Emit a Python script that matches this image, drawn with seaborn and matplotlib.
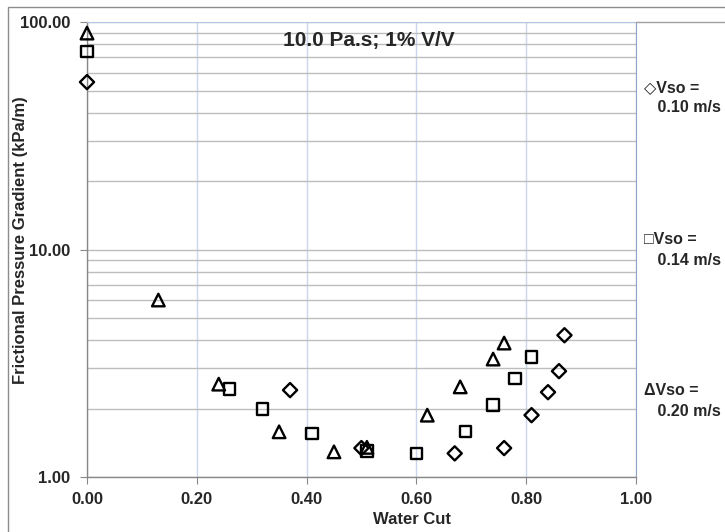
import numpy as np
import pandas as pd
import matplotlib.pyplot as plt
import seaborn as sns
from matplotlib.patches import Rectangle
from matplotlib.lines import Line2D
from matplotlib.ticker import FixedLocator, LogLocator, NullFormatter

# water cut and frictional pressure gradient for each superficial oil velocity
cut_010 = [0.00, 0.37, 0.50, 0.67, 0.76, 0.81, 0.84, 0.86, 0.87]
dp_010 = [54.5, 2.41, 1.34, 1.27, 1.34, 1.87, 2.36, 2.92, 4.20]

cut_014 = [0.00, 0.26, 0.32, 0.41, 0.51, 0.60, 0.69, 0.74, 0.78, 0.81]
dp_014 = [74.5, 2.44, 1.99, 1.55, 1.30, 1.27, 1.59, 2.07, 2.72, 3.37]

cut_020 = [0.00, 0.13, 0.24, 0.35, 0.45, 0.51, 0.62, 0.68, 0.74, 0.76]
dp_020 = [89.5, 6.00, 2.56, 1.58, 1.29, 1.35, 1.87, 2.49, 3.30, 3.88]

series_names = ["0.10", "0.14", "0.20"]
x_ticks = [0.0, 0.2, 0.4, 0.6, 0.8, 1.0]
y_ticks = [1, 10, 100]

sns.set_style("white")
plt.rcParams["font.family"] = ["Liberation Sans", "DejaVu Sans"]

fig = plt.figure(figsize=(7.25, 5.32), dpi=100)
ax = fig.add_axes([0.12, 0.1034, 0.757, 0.855])

# outer chart border (runs off the right and bottom edges like the original)
fig.patches.append(Rectangle((0.011, -0.1), 1.2, 1.087, transform=fig.transFigure,
                             fill=False, edgecolor="#8c8c8c", linewidth=1.0))
# top edge of the legend box
fig.add_artist(Line2D([0.877, 1.0], [0.9586, 0.9586], transform=fig.transFigure,
                      color="#a0a0a0", linewidth=1.0))

data = [(cut_010, dp_010), (cut_014, dp_014), (cut_020, dp_020)]
markers = ["D", "s", "^"]
sizes = [52, 66, 82]
for (cut, dp), name, mk, sz in zip(data, series_names, markers, sizes):
    df = pd.DataFrame({"cut": cut, "dp": dp})
    sns.scatterplot(data=df, x="cut", y="dp", marker=mk, s=sz, ax=ax,
                    facecolor="none", edgecolor="black", linewidth=1.7,
                    clip_on=False, zorder=5)

ax.set_yscale("log")
ax.set_xlim(0, 1)
ax.set_ylim(1, 100)
ax.xaxis.set_major_locator(FixedLocator(x_ticks))
ax.yaxis.set_major_locator(FixedLocator(y_ticks))
ax.yaxis.set_minor_locator(LogLocator(base=10, subs=np.arange(2, 10)))
ax.yaxis.set_minor_formatter(NullFormatter())
ax.set_xticklabels([f"{t:.2f}" for t in x_ticks], fontweight="bold", fontsize=12)
ax.set_yticklabels([f"{t:.2f}" for t in y_ticks], fontweight="bold", fontsize=12)

ax.grid(axis="x", which="major", color="#c9d6ee", linewidth=1.0)
ax.grid(axis="y", which="both", color="#bdbdbd", linewidth=1.0)
ax.set_axisbelow(True)

for side in ["left", "bottom"]:
    ax.spines[side].set_color("#888888")
    ax.spines[side].set_linewidth(1.0)
ax.spines["right"].set_color("#8ea5c8")
ax.spines["top"].set_color("#b5c7e6")
ax.tick_params(axis="both", which="major", length=5, color="#888888", direction="out",
               bottom=True, left=True)
ax.tick_params(axis="x", which="major", pad=6)
ax.tick_params(axis="y", which="major", pad=7)
ax.tick_params(axis="y", which="minor", length=0)

ax.set_xlabel("Water Cut", fontweight="bold", fontsize=12)
ax.set_ylabel("Frictional Pressure Gradient (kPa/m)", fontweight="bold", fontsize=12)
ax.xaxis.set_label_coords(0.592, -0.077)
ax.yaxis.set_label_coords(-0.108, 0.521)

ax.text(0.514, 0.96, "10.0 Pa.s; 1% V/V", transform=ax.transAxes, ha="center", va="center",
        fontweight="bold", fontsize=15)

# legend entries on the right, spaced like the original
legend_y = [0.8167, 0.530, 0.246]
symbols = ["\u25c7", "\u25a1", "\u0394"]
for sym, name, ly in zip(symbols, series_names, legend_y):
    fig.text(0.888, ly, f"{sym}Vso =\n   {name} m/s", ha="left", va="center",
             fontweight="bold", fontsize=11.5, linespacing=1.45,
             family=["Liberation Sans", "DejaVu Sans"])

fig.savefig("out.png", dpi=100)
